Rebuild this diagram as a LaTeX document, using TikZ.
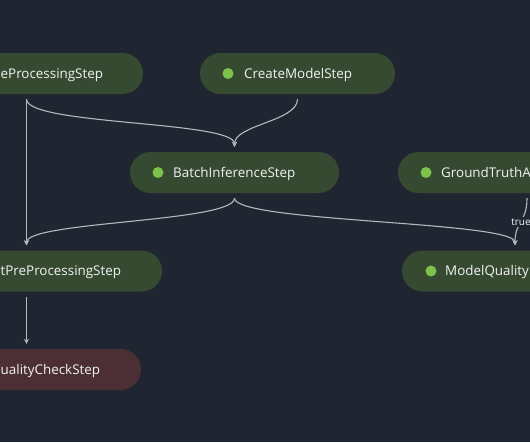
\documentclass[tikz,border=0pt]{standalone}
\usepackage{fontspec}
\setmainfont{Open Sans}
\usetikzlibrary{arrows.meta,calc}
\definecolor{bg}{HTML}{1F2631}
\definecolor{nodegreen}{HTML}{354A30}
\definecolor{nodered}{HTML}{4C2F34}
\definecolor{dotgreen}{HTML}{7DC24B}
\definecolor{edgegray}{HTML}{B4B8BF}
\definecolor{txt}{HTML}{F2F3F3}
\begin{document}
\begin{tikzpicture}[x=1pt,y=-1pt,
  pill/.style={draw=none, rounded corners=20.5pt, minimum height=41pt, inner sep=0pt, fill=nodegreen},
  dotmark/.style={circle, fill=dotgreen, minimum size=11pt, inner sep=0pt},
  lbl/.style={font=\fontsize{13.4}{16}\selectfont, text=txt, inner sep=0pt},
  edge/.style={draw=edgegray, line width=1.1pt, -{Stealth[length=5pt,width=5pt]}},
  truelbl/.style={fill=bg, font=\fontsize{10}{12}\selectfont, text=txt, inner sep=1.5pt}]
\fill[bg] (0,0) rectangle (530,442);
\useasboundingbox (0,0) rectangle (530,442);
\clip (0,0) rectangle (530,442);
% nodes
\node[pill, minimum width=233pt] (prep) at (26.5,73.5) {};
\node[pill, minimum width=195pt] (create) at (297.5,73.5) {};
\node[pill, minimum width=209pt] (batch) at (234.5,172.5) {};
\node[pill, minimum width=258pt] (gt) at (527,172.5) {};
\node[pill, minimum width=271pt] (mpre) at (26.5,271) {};
\node[pill, minimum width=226pt] (mq) at (515,271) {};
\node[pill, fill=nodered, minimum width=229pt] (mqc) at (26.5,369.5) {};
% dots
\node[dotmark] (createdot) at (228,73.5) {};
\node[dotmark] (batchdot) at (158,172.5) {};
\node[dotmark] (gtdot) at (426,172.5) {};
\node[dotmark] (mqdot) at (431,271) {};
% labels
\node[lbl, anchor=base west] (preplbl) at (0.5,78.3) {eProcessingStep};
\node[lbl, anchor=base west] (createlbl) at (244,78.3) {CreateModelStep};
\node[lbl, anchor=base west] (batchlbl) at (173,177.3) {BatchInferenceStep};
\node[lbl, anchor=base west] (gtlbl) at (441,177.3) {GroundTruthA};
\node[lbl, anchor=base west] (mprelbl) at (0.5,275.8) {tPreProcessingStep};
\node[lbl, anchor=base west] (mqlbl) at (445,275.8) {ModelQuality};
\node[lbl, anchor=base west] (mqclbl) at (0.5,374.3) {ualityCheckStep};
% edges
\draw[edge] ($(prep.south)+(0,5)$) -- ($(mpre.north)+(0,-5)$);
\draw[edge] ($(prep.south)+(0,5)$) .. controls +(0,26) and +(0,-26) .. ($(batch.north)+(0,-5)$);
\draw[edge] ($(create.south)+(0,5)$) .. controls +(0,22) and +(0,-22) .. ($(batch.north)+(0,-5)$);
\draw[edge] ($(batch.south)+(0,5)$) .. controls +(0,24) and +(0,-24) .. ($(mpre.north)+(0,-5)$);
\draw[edge] ($(batch.south)+(0,5)$) .. controls +(0,24) and +(0,-24) .. ($(mq.north)+(0,-5)$);
\draw[edge] ($(gt.south)+(0,5)$) .. controls +(0,24) and +(0,-24) .. node[truelbl] (truetxt) {true} ($(mq.north)+(0,-5)$);
\draw[edge] ($(mpre.south)+(0,5)$) -- ($(mqc.north)+(0,-5)$);
\end{tikzpicture}
\end{document}
